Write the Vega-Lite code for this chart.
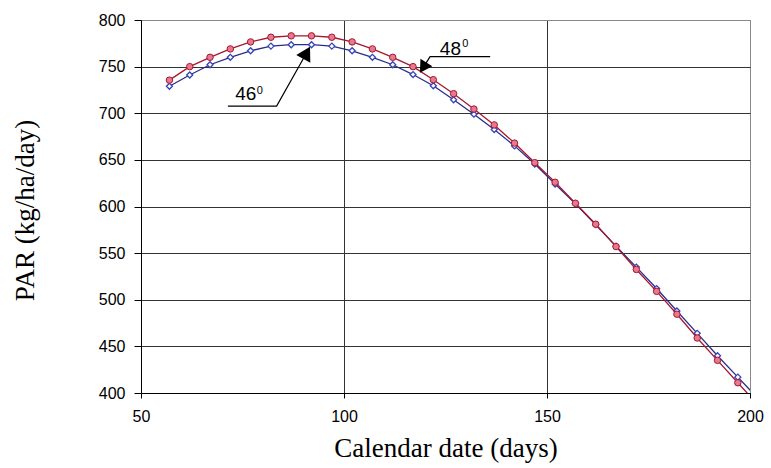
{
  "$schema": "https://vega.github.io/schema/vega-lite/v6.json",
  "width": 609,
  "height": 373,
  "autosize": {"type": "none"},
  "padding": {"left": 141, "top": 20, "right": 21, "bottom": 75},
  "background": "white",
  "config": {"view": {"stroke": "#888888", "strokeWidth": 1}, "font": "Liberation Sans"},
  "datasets": {
    "par": [
      {"lat": "46°", "day": 57, "par": 729}, {"lat": "46°", "day": 62, "par": 741}, {"lat": "46°", "day": 67, "par": 752},
      {"lat": "46°", "day": 72, "par": 760}, {"lat": "46°", "day": 77, "par": 767}, {"lat": "46°", "day": 82, "par": 772},
      {"lat": "46°", "day": 87, "par": 773.5}, {"lat": "46°", "day": 92, "par": 773.5}, {"lat": "46°", "day": 97, "par": 772},
      {"lat": "46°", "day": 102, "par": 767}, {"lat": "46°", "day": 107, "par": 760}, {"lat": "46°", "day": 112, "par": 752},
      {"lat": "46°", "day": 117, "par": 741.5}, {"lat": "46°", "day": 122, "par": 729.5}, {"lat": "46°", "day": 127, "par": 714.5},
      {"lat": "46°", "day": 132, "par": 699}, {"lat": "46°", "day": 137, "par": 682.5}, {"lat": "46°", "day": 142, "par": 665},
      {"lat": "46°", "day": 147, "par": 645.5}, {"lat": "46°", "day": 152, "par": 624}, {"lat": "46°", "day": 157, "par": 603},
      {"lat": "46°", "day": 162, "par": 580.5}, {"lat": "46°", "day": 167, "par": 557.5}, {"lat": "46°", "day": 172, "par": 535},
      {"lat": "46°", "day": 177, "par": 512}, {"lat": "46°", "day": 182, "par": 488}, {"lat": "46°", "day": 187, "par": 464},
      {"lat": "46°", "day": 192, "par": 440}, {"lat": "46°", "day": 197, "par": 417}, {"lat": "46°", "day": 202, "par": 394},
      {"lat": "48°", "day": 57, "par": 735.5}, {"lat": "48°", "day": 62, "par": 750}, {"lat": "48°", "day": 67, "par": 760},
      {"lat": "48°", "day": 72, "par": 769}, {"lat": "48°", "day": 77, "par": 776.5}, {"lat": "48°", "day": 82, "par": 781.5},
      {"lat": "48°", "day": 87, "par": 783}, {"lat": "48°", "day": 92, "par": 783}, {"lat": "48°", "day": 97, "par": 781.5},
      {"lat": "48°", "day": 102, "par": 776.5}, {"lat": "48°", "day": 107, "par": 769}, {"lat": "48°", "day": 112, "par": 760},
      {"lat": "48°", "day": 117, "par": 750}, {"lat": "48°", "day": 122, "par": 736}, {"lat": "48°", "day": 127, "par": 721},
      {"lat": "48°", "day": 132, "par": 704.5}, {"lat": "48°", "day": 137, "par": 687.5}, {"lat": "48°", "day": 142, "par": 668},
      {"lat": "48°", "day": 147, "par": 647}, {"lat": "48°", "day": 152, "par": 626}, {"lat": "48°", "day": 157, "par": 603.5},
      {"lat": "48°", "day": 162, "par": 581}, {"lat": "48°", "day": 167, "par": 557}, {"lat": "48°", "day": 172, "par": 532.5},
      {"lat": "48°", "day": 177, "par": 509}, {"lat": "48°", "day": 182, "par": 484.5}, {"lat": "48°", "day": 187, "par": 459},
      {"lat": "48°", "day": 192, "par": 435}, {"lat": "48°", "day": 197, "par": 411}, {"lat": "48°", "day": 202, "par": 387}
    ],
    "leaders": [
      {"note": "46", "seq": 1, "day": 71.4, "par": 707.7},
      {"note": "46", "seq": 2, "day": 83.4, "par": 707.7},
      {"note": "46", "seq": 3, "day": 90.8, "par": 764.8},
      {"note": "48", "seq": 1, "day": 136, "par": 760.7},
      {"note": "48", "seq": 2, "day": 121.2, "par": 760.7},
      {"note": "48", "seq": 3, "day": 119.5, "par": 748.9}
    ],
    "heads": [
      {"note": "46", "day": 90.8, "par": 764.8},
      {"note": "48", "day": 119.5, "par": 748.9}
    ],
    "labels": [
      {"text": "46", "day": 73.2, "par": 714.2},
      {"text": "48", "day": 123.6, "par": 762.4}
    ],
    "sups": [
      {"text": "0", "day": 78.5, "par": 721},
      {"text": "0", "day": 129.1, "par": 771.4}
    ]
  },
  "layer": [
    {
      "data": {"name": "par"},
      "transform": [{"filter": "datum.lat == '46°'"}],
      "mark": {"type": "line", "clip": true, "strokeWidth": 1.3, "color": "#2B2B8F"},
      "encoding": {
        "x": {
          "field": "day", "type": "quantitative",
          "scale": {"domain": [50, 200], "nice": false, "zero": false},
          "axis": {
            "values": [50, 100, 150, 200],
            "title": "Calendar date (days)",
            "titleFont": "Liberation Serif", "titleFontSize": 27, "titleFontWeight": "normal", "titleColor": "black",
            "titleBaseline": "alphabetic", "titleY": 63,
            "labelFont": "Liberation Sans", "labelFontSize": 16, "labelColor": "black", "labelPadding": 10, "labelFlush": false,
            "tickSize": 5, "tickColor": "black", "domainColor": "black",
            "grid": true, "gridColor": {"condition": {"test": "datum.value == 200", "value": "#888888"}, "value": "#333333"}
          }
        },
        "y": {
          "field": "par", "type": "quantitative",
          "scale": {"domain": [400, 800], "nice": false, "zero": false},
          "axis": {
            "values": [400, 450, 500, 550, 600, 650, 700, 750, 800],
            "title": "PAR (kg/ha/day)",
            "titleFont": "Liberation Serif", "titleFontSize": 27, "titleFontWeight": "normal", "titleColor": "black",
            "titleAlign": "center", "titleBaseline": "middle", "titleX": -116, "titleY": 190,
            "labelFont": "Liberation Sans", "labelFontSize": 16, "labelColor": "black", "labelPadding": 9,
            "tickSize": 7, "tickColor": "black", "domainColor": "black",
            "grid": true, "gridColor": {"condition": {"test": "datum.value == 800", "value": "#888888"}, "value": "#333333"}
          }
        }
      }
    },
    {
      "data": {"name": "par"},
      "transform": [{"filter": "datum.lat == '46°' && datum.day <= 197"}],
      "mark": {"type": "point", "shape": "diamond", "filled": true, "fill": "white", "stroke": "#3344B8", "strokeWidth": 1.3, "size": 36, "opacity": 1},
      "encoding": {
        "x": {"field": "day", "type": "quantitative"},
        "y": {"field": "par", "type": "quantitative"}
      }
    },
    {
      "data": {"name": "par"},
      "transform": [{"filter": "datum.lat == '48°'"}],
      "mark": {"type": "line", "clip": true, "strokeWidth": 1.3, "color": "#A3182F"},
      "encoding": {
        "x": {"field": "day", "type": "quantitative"},
        "y": {"field": "par", "type": "quantitative"}
      }
    },
    {
      "data": {"name": "par"},
      "transform": [{"filter": "datum.lat == '48°' && datum.day <= 197"}],
      "mark": {"type": "point", "shape": "circle", "filled": true, "fill": "#E8788F", "stroke": "#A3182F", "strokeWidth": 1, "size": 42, "opacity": 1},
      "encoding": {
        "x": {"field": "day", "type": "quantitative"},
        "y": {"field": "par", "type": "quantitative"}
      }
    },
    {
      "data": {"name": "leaders"},
      "mark": {"type": "line", "color": "black", "strokeWidth": 1.2},
      "encoding": {
        "x": {"field": "day", "type": "quantitative"},
        "y": {"field": "par", "type": "quantitative"},
        "detail": {"field": "note"},
        "order": {"field": "seq", "type": "quantitative"}
      }
    },
    {
      "data": {"name": "heads"},
      "transform": [{"filter": "datum.note == '46'"}],
      "mark": {"type": "point", "shape": "triangle-up", "filled": true, "color": "black", "size": 256, "angle": 29, "opacity": 1},
      "encoding": {
        "x": {"field": "day", "type": "quantitative"},
        "y": {"field": "par", "type": "quantitative"}
      }
    },
    {
      "data": {"name": "heads"},
      "transform": [{"filter": "datum.note == '48'"}],
      "mark": {"type": "point", "shape": "triangle-up", "filled": true, "color": "black", "size": 196, "angle": 212, "opacity": 1},
      "encoding": {
        "x": {"field": "day", "type": "quantitative"},
        "y": {"field": "par", "type": "quantitative"}
      }
    },
    {
      "data": {"name": "labels"},
      "mark": {"type": "text", "align": "left", "baseline": "alphabetic", "font": "Liberation Sans", "fontSize": 19, "color": "black"},
      "encoding": {
        "x": {"field": "day", "type": "quantitative"},
        "y": {"field": "par", "type": "quantitative"},
        "text": {"field": "text"}
      }
    },
    {
      "data": {"name": "sups"},
      "mark": {"type": "text", "align": "left", "baseline": "alphabetic", "font": "Liberation Sans", "fontSize": 11, "color": "black"},
      "encoding": {
        "x": {"field": "day", "type": "quantitative"},
        "y": {"field": "par", "type": "quantitative"},
        "text": {"field": "text"}
      }
    }
  ]
}
